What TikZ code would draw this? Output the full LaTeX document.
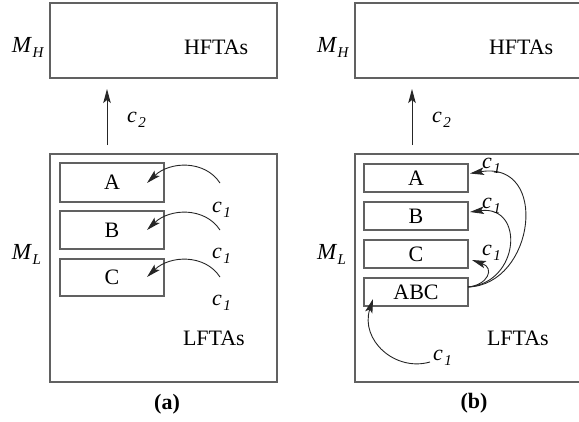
\documentclass[tikz,border=0pt]{standalone}
\usepackage{fontspec}
\setmainfont{Liberation Serif}
\usetikzlibrary{arrows.meta}
% italic symbol with a lowered italic index
\newcommand{\lowsub}[2]{{\itshape #1}\kern1.5pt\raisebox{-5pt}{\fontsize{15}{15}\selectfont\itshape #2}}

\begin{document}
\begin{tikzpicture}[x=1pt,y=-1pt,
  every node/.style={font=\fontsize{22}{24}\selectfont, inner sep=0pt, outer sep=0pt},
  frame/.style={draw=black!62, line width=1.5pt},
  cell/.style={draw=black!62, line width=1.3pt, minimum width=104pt},
  flow/.style={draw=black!85, line width=0.9pt, -{Stealth[length=14pt,width=7.5pt,inset=3pt]}},
  lbl/.style={anchor=base west}]

\useasboundingbox (0,0) rectangle (579,421);

% ---------------- (a) ----------------
\node[frame, minimum width=227pt, minimum height=75pt] (Ha) at (163.5,40.5) {};
\node[lbl, font=\fontsize{23}{24}\selectfont] (MHa) at (12,52) {\lowsub{M}{H}};
\node[lbl] (HFa) at (184,54) {HFTAs};

\coordinate (c2a0) at (107,145);
\coordinate (c2a1) at (107,89);
\draw[flow] (c2a0) -- (c2a1);
\node[lbl] (c2la) at (127,122) {\lowsub{c}{2}};

\node[frame, minimum width=227pt, minimum height=228pt] (La) at (163.5,268) {};
\node[lbl, font=\fontsize{23}{24}\selectfont] (MLa) at (12,259) {\lowsub{M}{L}};
\node[lbl] (LFa) at (183,345) {LFTAs};

\node[cell, minimum height=39pt] (Aa) at (112,182.5) {A};
\node[cell, minimum height=38pt] (Ba) at (112,230) {B};
\node[cell, minimum height=37pt] (Ca) at (112,277.5) {C};

\foreach \n/\y in {Aa/183, Ba/230, Ca/277}{
  \coordinate (s\n) at (220,\y);
  \coordinate (t\n) at (147,\y);
  \draw[flow] (s\n) .. controls ++(-15,-23) and ++(23,-22) .. (t\n);
}
\node[lbl] (c1a1) at (212,212) {\lowsub{c}{1}};
\node[lbl] (c1a2) at (212,258) {\lowsub{c}{1}};
\node[lbl] (c1a3) at (212,305) {\lowsub{c}{1}};

\node (capa) at (167,404) {\bfseries (a)};

% ---------------- (b) ----------------
\node[frame, minimum width=227pt, minimum height=75pt] (Hb) at (468.5,40.5) {};
\node[lbl, font=\fontsize{23}{24}\selectfont] (MHb) at (317,52) {\lowsub{M}{H}};
\node[lbl] (HFb) at (489,54) {HFTAs};

\coordinate (c2b0) at (412,145);
\coordinate (c2b1) at (412,89);
\draw[flow] (c2b0) -- (c2b1);
\node[lbl] (c2lb) at (432,122) {\lowsub{c}{2}};

\node[frame, minimum width=227pt, minimum height=228pt] (Lb) at (468.5,268) {};
\node[lbl, font=\fontsize{23}{24}\selectfont] (MLb) at (317,259) {\lowsub{M}{L}};
\node[lbl] (LFb) at (487,345) {LFTAs};

\node[cell, minimum height=28pt] (Ab) at (416,178) {A};
\node[cell, minimum height=28pt] (Bb) at (416,216) {B};
\node[cell, minimum height=28pt] (Cb) at (416,254) {C};
\node[cell, minimum height=28pt] (ABCb) at (416,292) {ABC};

% merged query ABC feeds A, B and C
\coordinate (sABC) at ([yshift=5pt]ABCb.east);
\coordinate (tAb) at ([xshift=2pt,yshift=4.5pt]Ab.east);
\coordinate (tBb) at ([xshift=2pt,yshift=4pt]Bb.east);
\coordinate (tCb) at ([xshift=4pt,yshift=-6pt]Cb.east);
\draw[flow] (sABC) .. controls (535,285) and (550,160) .. (tAb);
\draw[flow] (sABC) .. controls (520,283) and (525,205) .. (tBb);
\draw[flow] (sABC) .. controls (488,285) and (495,268) .. (tCb);

\coordinate (sIn) at (430,362);
\coordinate (tIn) at (373,299);
\draw[flow] (sIn) .. controls (395,372) and (360,340) .. (tIn);

\node[lbl] (c1b1) at (482,168) {\lowsub{c}{1}};
\node[lbl] (c1b2) at (482,208) {\lowsub{c}{1}};
\node[lbl] (c1b3) at (482,255) {\lowsub{c}{1}};
\node[lbl] (c1b4) at (433,360) {\lowsub{c}{1}};

\node (capb) at (474,403) {\bfseries (b)};
\end{tikzpicture}
\end{document}
